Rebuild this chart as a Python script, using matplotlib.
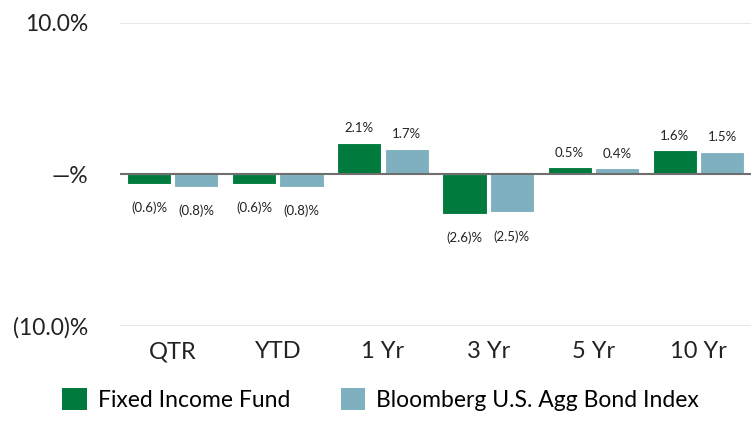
import numpy as np
import matplotlib
matplotlib.use("Agg")
import matplotlib.pyplot as plt
from matplotlib.patches import Patch

# Data
categories = ["QTR", "YTD", "1 Yr", "3 Yr", "5 Yr", "10 Yr"]
fund = [-0.6, -0.6, 2.1, -2.6, 0.5, 1.6]
index = [-0.8, -0.8, 1.7, -2.5, 0.4, 1.5]
series_names = ["Fixed Income Fund", "Bloomberg U.S. Agg Bond Index"]
yticks = [-10, 0, 10]
ytick_labels = ["(10.0)%", "\u2014%", "10.0%"]

green = "#007a3d"
blue = "#7fb0bf"

plt.rcParams["font.family"] = ["Lato", "DejaVu Sans"]

fig = plt.figure(figsize=(7.51, 4.25), dpi=100)
ax = fig.add_axes([0.16, 0.233, 0.84, 0.713])

x = np.arange(len(categories))
w = 0.42
off = 0.225
b1 = ax.bar(x - off, fund, w, color=green, edgecolor="white", linewidth=0.8, zorder=3)
b2 = ax.bar(x + off, index, w, color=blue, edgecolor="white", linewidth=0.8, zorder=3)


def fmt(v):
    return f"({abs(v):.1f})%" if v < 0 else f"{v:.1f}%"


for bars, vals in [(b1, fund), (b2, index)]:
    for rect, v in zip(bars, vals):
        cx = rect.get_x() + rect.get_width() / 2
        if v >= 0:
            ax.annotate(fmt(v), (cx, v), xytext=(0, 6), textcoords="offset points",
                        ha="center", va="bottom", fontsize=9.5, color="#222222")
        else:
            ax.annotate(fmt(v), (cx, v), xytext=(0, -13), textcoords="offset points",
                        ha="center", va="top", fontsize=9.5, color="#222222")

ax.set_xlim(-0.5, len(categories) - 0.5)
ax.set_ylim(-10, 10)
ax.set_yticks(yticks)
ax.set_yticklabels(ytick_labels, fontsize=16.5, color="#222222")
ax.set_xticks(x)
ax.set_xticklabels(categories, fontsize=17, color="#222222")
ax.tick_params(axis="y", length=0, pad=23)
ax.tick_params(axis="x", length=0, pad=11)

for s in ax.spines.values():
    s.set_visible(False)

ax.axhline(10, color="#e3e3e3", linewidth=1.2, zorder=1)
ax.axhline(-10, color="#e3e3e3", linewidth=1.2, zorder=1)
ax.axhline(0, color="#6e6e6e", linewidth=1.5, zorder=4)

handles = [Patch(facecolor=green, edgecolor="none"), Patch(facecolor=blue, edgecolor="none")]
fig.legend(handles, series_names, loc="lower center", bbox_to_anchor=(0.507, -0.015),
           ncol=2, frameon=False, fontsize=16.5, handlelength=1.05, handleheight=1.15,
           handletextpad=0.5, columnspacing=2.2)

fig.savefig("out.png", dpi=100)
